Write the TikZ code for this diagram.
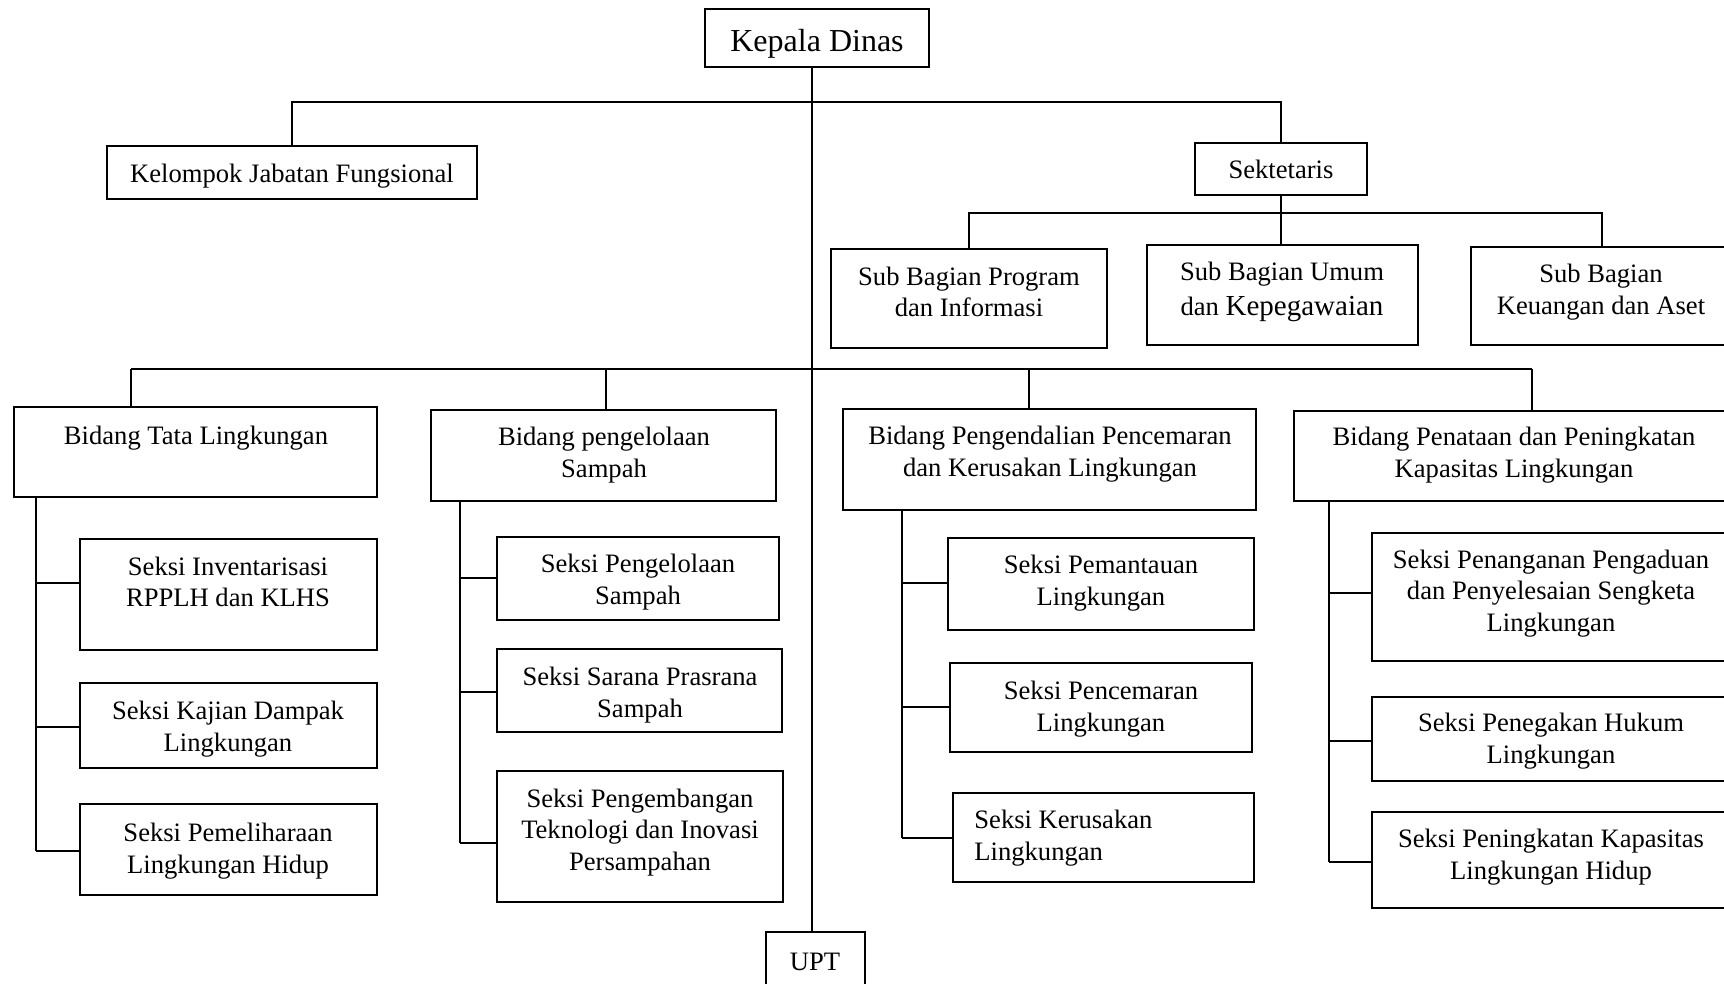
\documentclass[tikz,border=0pt]{standalone}
\usepackage{fontspec}
\setmainfont{Liberation Serif}
\usetikzlibrary{fit}
\begin{document}
\begin{tikzpicture}[x=0.5pt,y=-0.5pt,
  box/.style={draw, line width=1.1pt, inner sep=0pt},
  txt/.style={align=center, font=\fontsize{13.3}{15.8}\selectfont, inner sep=0pt},
  ln/.style={line width=1pt}]
\useasboundingbox (0,0) rectangle (1724,984);
\clip (0,0) rectangle (1724,984);

% boxes
\node[box, fit={(705,9) (929,67)}] (kd) {};
\node[txt, font=\fontsize{16}{19}\selectfont] (kd-t) at (817,43.5) {Kepala Dinas};
\node[box, fit={(107,146) (477,199)}] (kjf) {};
\node[txt] (kjf-t) at (292,176.3) {Kelompok Jabatan Fungsional};
\node[box, fit={(1195,143) (1367,195)}] (sek) {};
\node[txt] (sek-t) at (1281,169) {Sektetaris};
\node[box, fit={(831,249) (1107,348)}] (sbp) {};
\node[txt] (sbp-t) at (969,292) {Sub Bagian Program\\dan Informasi};
\node[box, fit={(1147,245) (1418,345)}] (sbu) {};
\node[txt] (sbu-t) at (1282,291.8) {Sub Bagian Umum\\[1.6pt]dan {\fontsize{14.5}{15.8}\selectfont Kepegawaian}};
\node[box, fit={(1471,247) (1732,345)}] (sbk) {};
\node[txt] (sbk-t) at (1601,292.2) {Sub Bagian\\Keuangan dan Aset};

\node[box, fit={(14,407) (377,497)}] (btl) {};
\node[txt] (btl-t) at (196,438.3) {Bidang Tata Lingkungan};
\node[box, fit={(431,410) (776,501)}] (bps) {};
\node[txt] (bps-t) at (604,455.3) {Bidang pengelolaan\\Sampah};
\node[box, fit={(843,409) (1256,510)}] (bpp) {};
\node[txt] (bpp-t) at (1050,454.3) {Bidang Pengendalian Pencemaran\\dan Kerusakan Lingkungan};
\node[box, fit={(1294,411) (1734,501)}] (bpk) {};
\node[txt] (bpk-t) at (1514,455.3) {Bidang Penataan dan Peningkatan\\Kapasitas Lingkungan};

\node[box, fit={(80,539) (377,650)}] (s11) {};
\node[txt] (s11-t) at (228,582) {Seksi Inventarisasi\\RPPLH dan KLHS};
\node[box, fit={(80,683) (377,768)}] (s12) {};
\node[txt] (s12-t) at (228,729) {Seksi Kajian Dampak\\Lingkungan};
\node[box, fit={(80,804) (377,895)}] (s13) {};
\node[txt] (s13-t) at (228,851.3) {Seksi Pemeliharaan\\Lingkungan Hidup};

\node[box, fit={(497,537) (779,620)}] (s21) {};
\node[txt] (s21-t) at (638,582.2) {Seksi Pengelolaan\\Sampah};
\node[box, fit={(497,649) (782,732)}] (s22) {};
\node[txt] (s22-t) at (640,695) {Seksi Sarana Prasrana\\Sampah};
\node[box, fit={(497,771) (783,902)}] (s23) {};
\node[txt] (s23-t) at (640,832.3) {Seksi Pengembangan\\Teknologi dan Inovasi\\Persampahan};

\node[box, fit={(948,538) (1254,630)}] (s31) {};
\node[txt] (s31-t) at (1101,583.2) {Seksi Pemantauan\\Lingkungan};
\node[box, fit={(950,663) (1252,752)}] (s32) {};
\node[txt] (s32-t) at (1101,709.3) {Seksi Pencemaran\\Lingkungan};
\node[box, fit={(953,793) (1254,882)}] (s33) {};
\node[txt, align=left, anchor=west] (s33-t) at (974,838.3) {Seksi Kerusakan\\Lingkungan};

\node[box, fit={(1372,533) (1732,661)}] (s41) {};
\node[txt] (s41-t) at (1551,593.3) {Seksi Penanganan Pengaduan\\dan Penyelesaian Sengketa\\Lingkungan};
\node[box, fit={(1372,697) (1732,781)}] (s42) {};
\node[txt] (s42-t) at (1551,741.3) {Seksi Penegakan Hukum\\Lingkungan};
\node[box, fit={(1372,812) (1732,908)}] (s43) {};
\node[txt] (s43-t) at (1551,857.2) {Seksi Peningkatan Kapasitas\\Lingkungan Hidup};

\node[box, fit={(766,932) (865,995)}] (upt) {};
\node[txt] (upt-t) at (815,962) {UPT};

% connectors
\coordinate (spine) at (812,0);
\draw[ln] (kd.south -| spine) -- (upt.north -| spine);

\coordinate (tb) at (0,102);
\draw[ln] (kjf.north) -- (kjf.north |- tb) -- (sek.north |- tb) -- (sek.north);

\coordinate (sb) at (0,213);
\draw[ln] (sek.south) -- (sek.south |- sbu.north);
\draw[ln] (sbp.north) -- (sbp.north |- sb) -- (sbk.north |- sb) -- (sbk.north);

\coordinate (d1) at (131,369);
\coordinate (d2) at (606,369);
\coordinate (d4) at (1029,369);
\coordinate (d5) at (1532,369);
\draw[ln] (d1) -- (d5);
\draw[ln] (d1) -- (d1 |- btl.north);
\draw[ln] (d2) -- (d2 |- bps.north);
\draw[ln] (d4) -- (d4 |- bpp.north);
\draw[ln] (d5) -- (d5 |- bpk.north);

% Tata Lingkungan
\coordinate (a1) at (36,583); \coordinate (a2) at (36,727); \coordinate (a3) at (36,851);
\draw[ln] (a1 |- btl.south) -- (a3);
\draw[ln] (a1) -- (a1 -| s11.west);
\draw[ln] (a2) -- (a2 -| s12.west);
\draw[ln] (a3) -- (a3 -| s13.west);

% Pengelolaan Sampah
\coordinate (b1) at (460,578); \coordinate (b2) at (460,692); \coordinate (b3) at (460,843);
\draw[ln] (b1 |- bps.south) -- (b3);
\draw[ln] (b1) -- (b1 -| s21.west);
\draw[ln] (b2) -- (b2 -| s22.west);
\draw[ln] (b3) -- (b3 -| s23.west);

% Pengendalian
\coordinate (c1) at (902,583); \coordinate (c2) at (902,707); \coordinate (c3) at (902,838);
\draw[ln] (c1 |- bpp.south) -- (c3);
\draw[ln] (c1) -- (c1 -| s31.west);
\draw[ln] (c2) -- (c2 -| s32.west);
\draw[ln] (c3) -- (c3 -| s33.west);

% Penataan
\coordinate (e1) at (1329,593); \coordinate (e2) at (1329,741); \coordinate (e3) at (1329,862);
\draw[ln] (e1 |- bpk.south) -- (e3);
\draw[ln] (e1) -- (e1 -| s41.west);
\draw[ln] (e2) -- (e2 -| s42.west);
\draw[ln] (e3) -- (e3 -| s43.west);
\end{tikzpicture}
\end{document}
